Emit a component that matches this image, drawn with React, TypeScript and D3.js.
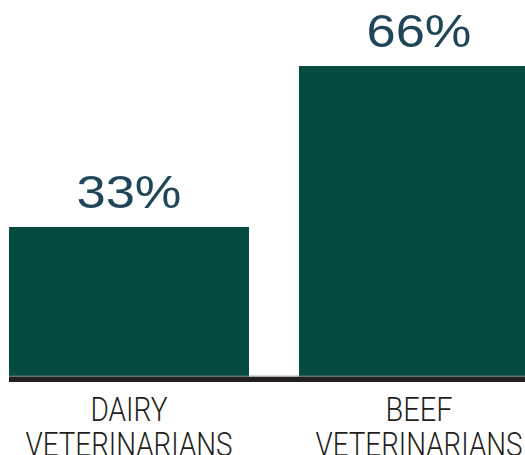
import React from "react";
import * as d3 from "d3";

const categories = ["DAIRY|VETERINARIANS", "BEEF|VETERINARIANS"];
const values = [33, 66];
const valueLabels = ["33%", "66%"];

const W = 525;
const H = 455;

export default function App() {
  const x = d3
    .scaleBand<string>()
    .domain(categories)
    .range([9, 539])
    .paddingInner(50 / 290)
    .paddingOuter(0);
  const y = d3.scaleLinear().domain([2.25, 66]).range([377, 66]);
  const bw = x.bandwidth();

  return (
    <svg
      width={W}
      height={H}
      style={{ position: "absolute", left: 0, top: 0, background: "#fff" }}
    >
      {categories.map((c, i) => {
        const x0 = x(c)!;
        const cx = x0 + bw / 2;
        const top = y(values[i]);
        const lines = c.split("|");
        const lens = [i === 0 ? 77 : 67, 207];
        return (
          <g key={c}>
            <rect x={x0} y={top} width={bw} height={377 - top} fill="#064b40" />
            <text
              x={cx}
              y={top - 19}
              textAnchor="middle"
              fontFamily="'Liberation Sans', Arial, sans-serif"
              fontSize={47}
              fill="#1e4658"
              textLength={105}
              lengthAdjust="spacingAndGlyphs"
            >
              {valueLabels[i]}
            </text>
            {lines.map((l, j) => (
              <text
                key={j}
                x={cx}
                y={421 + j * 34.5}
                textAnchor="middle"
                fontFamily="Roboto, 'Liberation Sans', sans-serif"
                fontWeight={300}
                fontSize={33}
                fill="#231f20"
                textLength={lens[j]}
                lengthAdjust="spacingAndGlyphs"
              >
                {l}
              </text>
            ))}
          </g>
        );
      })}
      <line x1={9} x2={W} y1={376.2} y2={376.2} stroke="#8a8a8a" strokeWidth={1} />
      <rect x={9} y={377} width={W - 9} height={5} fill="#231f20" />
    </svg>
  );
}
